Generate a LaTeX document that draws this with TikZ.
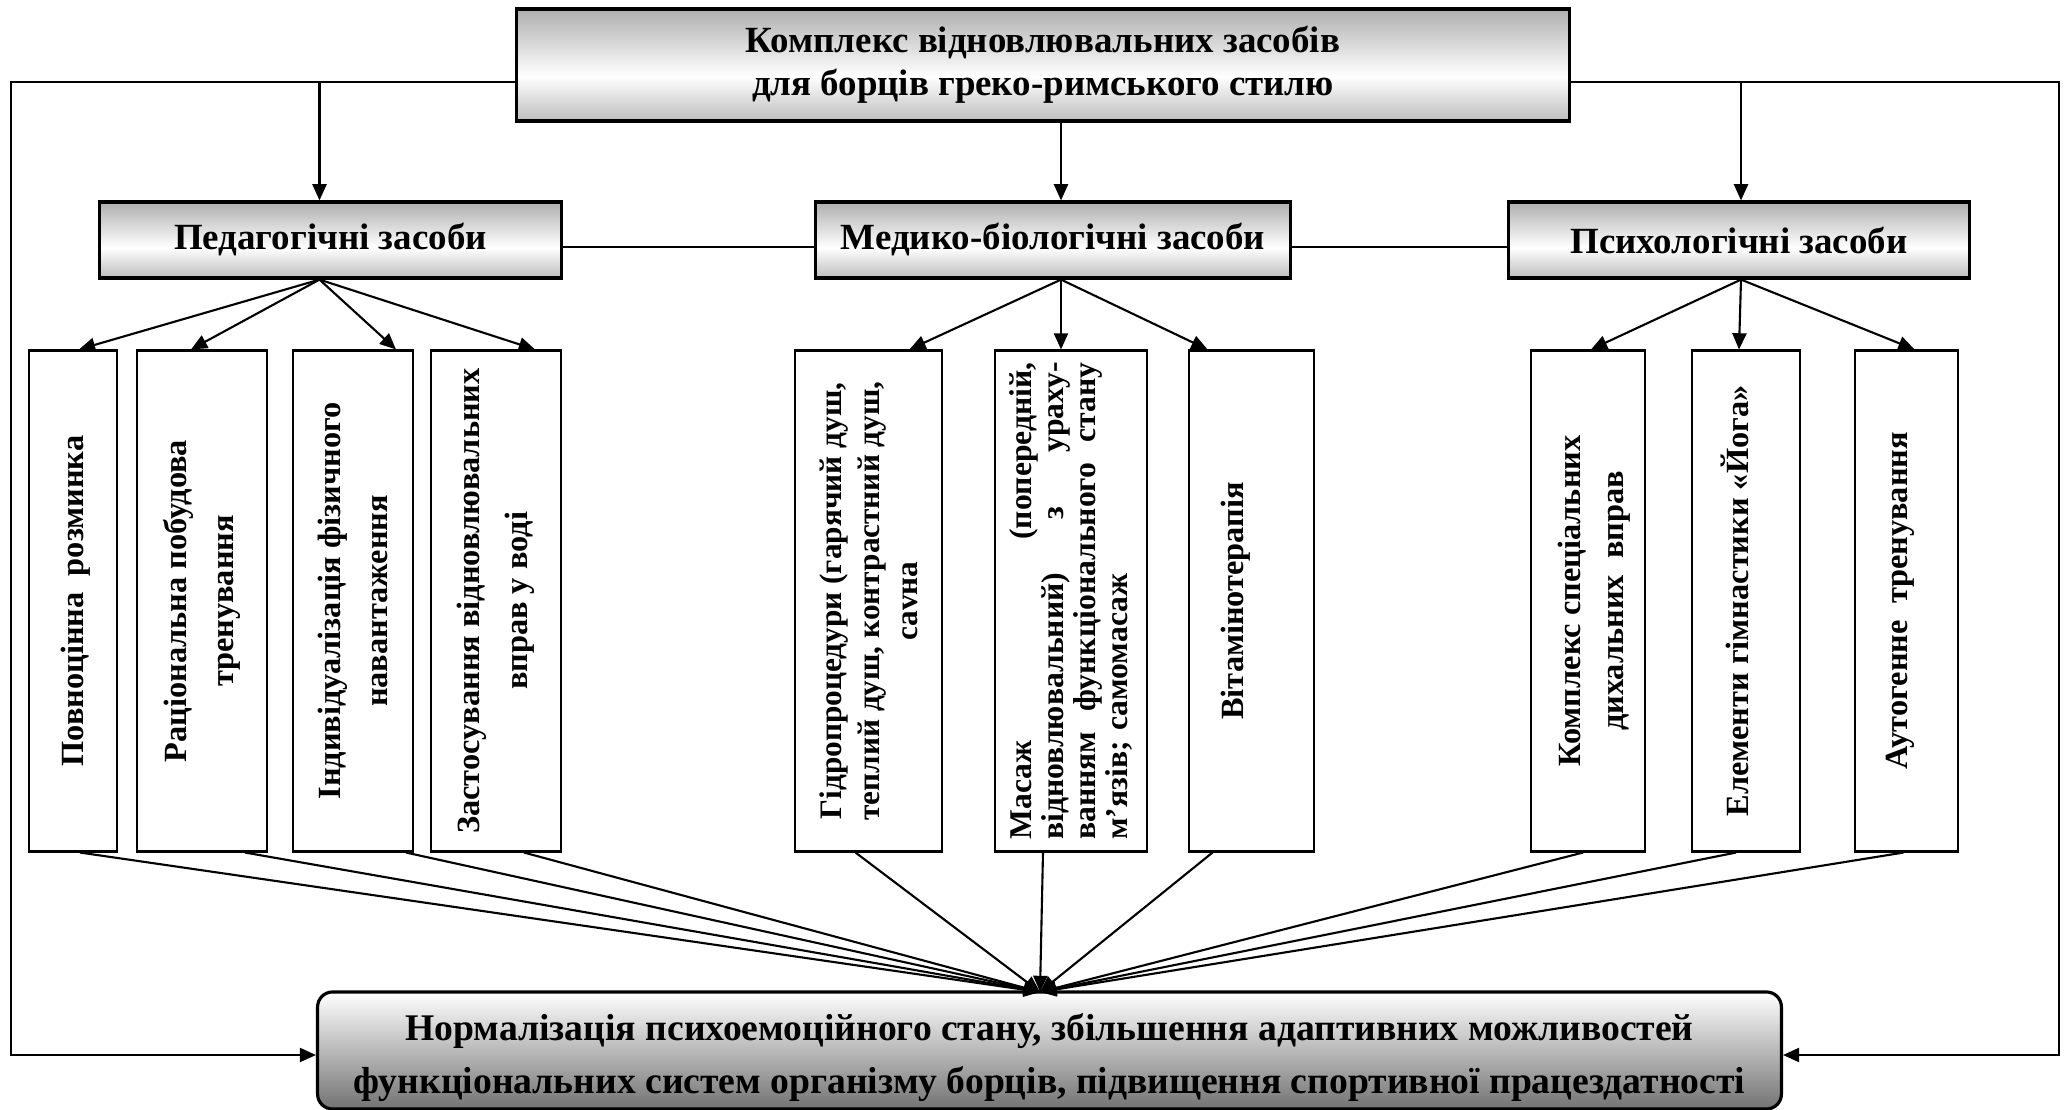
\documentclass[tikz,border=0pt]{standalone}
\usepackage{fontspec}
\setmainfont{Liberation Serif}
\usetikzlibrary{arrows,arrows.meta,calc,positioning}

\pgfdeclareverticalshading{hdrshade}{100bp}{color(0bp)=(black!58); color(45bp)=(white); color(100bp)=(black!58)}

\begin{document}
\begin{tikzpicture}[x=0.01cm,y=-0.01cm,
  hdr/.style={draw,line width=0.9pt,shading=hdrshade,inner sep=0pt,minimum height=0.76cm,align=center,font=\fontsize{10.5}{12.5}\selectfont\bfseries},
  vbox/.style={draw,line width=0.8pt,fill=white,inner sep=0pt,minimum height=5cm},
  vtxt/.style={rotate=90,align=center,inner sep=0pt,font=\fontsize{9.2}{13.5}\selectfont\bfseries},
  arr/.style={-{Triangle[length=4.6pt,width=4pt]},line width=0.6pt},
  ln/.style={line width=0.6pt}]
\useasboundingbox (0,0) rectangle (2069,1110);

\node[hdr,minimum width=10.52cm,minimum height=1.12cm,font=\fontsize{10.5}{12.2}\selectfont\bfseries] (top) at (1043,65) {Комплекс відновлювальних засобів\\для борців греко-римського стилю};
\node[hdr,minimum width=4.61cm] (ped) at (330.5,240) {Педагогічні засоби};
\node[hdr,minimum width=4.74cm] (med) at (1053,240) {Медико-біологічні засоби};
\node[hdr,minimum width=4.60cm] (psy) at (1739,240) {Психологічні засоби};
\node[draw,line width=0.9pt,rounded corners=0.15cm,top color=white,bottom color=black!55,inner sep=0pt,
  minimum width=14.63cm,minimum height=1.17cm] (res) at (1049.5,1050.5) {};
\node[align=center,inner sep=0pt,font=\fontsize{10.7}{15}\selectfont\bfseries] (rtxt) at ($(res)+(0,7)$)
  {Нормалізація психоемоційного стану, збільшення адаптивних можливостей\\функціональних систем організму борців, підвищення спортивної працездатності};

\foreach \n/\x/\w in {b1/73/0.88,b2/202/1.30,b3/353/1.20,b4/496/1.30,b5/868.5/1.47,b6/1071/1.52,b7/1251.5/1.25,b8/1588/1.14,b9/1746/1.08,b10/1906.5/1.03}
  \node[vbox,minimum width=\w cm] (\n) at (\x,601) {};

\node[vtxt] (t1) at ($(b1)+(3,0)$) {Повноцінна\ \ розминка};
\node[vtxt] (t2) at (b2) {Раціональна побудова\\тренування};
\node[vtxt] (t3) at (b3) {Індивідуалізація фізичного\\навантаження};
\node[vtxt] (t4) at (b4) {Застосування відновлювальних\\вправ у воді};
\node[vtxt,font=\fontsize{8.9}{10.8}\selectfont\bfseries] (t5) at (b5) {Гідропроцедури (гарячий душ,\\теплий душ, контрастний душ,\\саvна};
\node[vtxt,align=left,text width=4.77cm,font=\fontsize{9}{7.4}\selectfont\bfseries] (t6) at (b6)
  {Масаж \hfill (попередній,\\відновлювальний) \hfill з \hfill ураху-\\ванням \hfill функціонального \hfill стану\\м’язів; самомасаж};
\node[vtxt] (t7) at ($(b7)+(-16,0)$) {Вітамінотерапія};
\node[vtxt,font=\fontsize{9.2}{12.3}\selectfont\bfseries] (t8) at ($(b8)+(6,0)$) {Комплекс спеціальних\\дихальних\ \ вправ};
\node[vtxt] (t9) at ($(b9)+(-11,0)$) {Елементи гімнастики «Йога»};
\node[vtxt] (t10) at ($(b10)+(-6,0)$) {Аутогенне\ \ тренування};

\coordinate (tl) at ($(top.west)+(0,17)$);
\coordinate (tr) at ($(top.east)+(0,17)$);
\coordinate (lft) at (11,1055);
\coordinate (rgt) at (2059,1055);
\coordinate (pt) at ($(ped.north)+(-11,0)$);
\coordinate (st) at ($(psy.north)+(2,0)$);
\coordinate (ps) at ($(ped.south)+(-11,0)$);
\coordinate (ms) at ($(med.south)+(8,0)$);
\coordinate (ss) at ($(psy.south)+(2,0)$);
\coordinate (fan) at (1040,992);

\draw[arr] (tl) -| (lft) -- (lft -| res.west);
\draw[arr] (tr) -| (rgt) -- (rgt -| res.east);
\draw[arr] (pt |- tl) -- (pt);
\draw[arr] (st |- tr) -- (st);
\draw[arr] ($(top.south)+(18,0)$) -- ($(med.north)+(8,0)$);
\draw[ln] ($(ped.east)+(0,7)$) -- ($(med.west)+(0,7)$);
\draw[ln] ($(med.east)+(0,7)$) -- ($(psy.west)+(0,7)$);

\foreach \n/\d in {b1/6,b2/-11,b3/43,b4/39}
  \draw[arr] (ps) -- ($(\n.north)+(\d,0)$);
\foreach \n/\d in {b5/41,b6/-10,b7/-44}
  \draw[arr] (ms) -- ($(\n.north)+(\d,0)$);
\foreach \n/\d in {b8/3,b9/-7,b10/8}
  \draw[arr] (ss) -- ($(\n.north)+(\d,0)$);
\foreach \n/\d in {b1/7,b2/43,b3/53,b4/28,b5/-13,b6/-28,b7/-39,b8/-5,b9/-10,b10/-3}
  \draw[arr] ($(\n.south)+(\d,0)$) -- (fan);
\end{tikzpicture}
\end{document}
